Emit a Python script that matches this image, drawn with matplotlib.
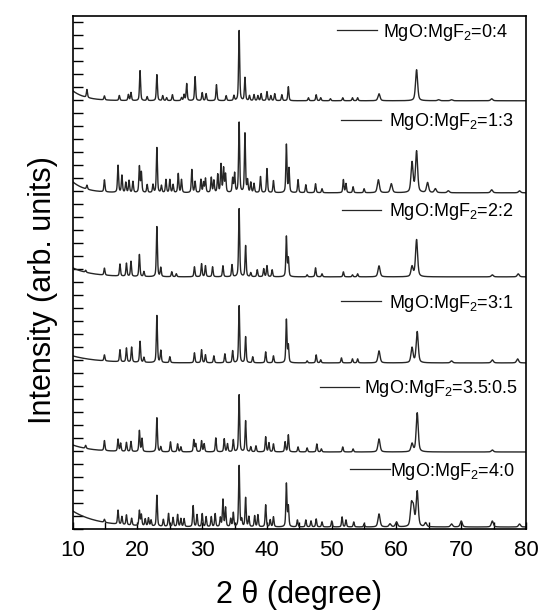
import numpy as np
import matplotlib
matplotlib.use('Agg')
import matplotlib.pyplot as plt
from matplotlib.lines import Line2D
from matplotlib.legend import Legend
from matplotlib.ticker import MultipleLocator

###############################################################################
#                     Peak lists
###############################################################################
# 2theta positions (degree) and heights (arb. units) above the local baseline

labels = ['MgO:MgF$_2$=0:4', 'MgO:MgF$_2$=1:3', 'MgO:MgF$_2$=2:2',
          'MgO:MgF$_2$=3:1', 'MgO:MgF$_2$=3.5:0.5', 'MgO:MgF$_2$=4:0']

# vertical offset of each pattern
offsets = [428, 336, 252, 166, 77, 2]

# low angle background hump: amplitude at 10 deg, decay (deg)
bg_amp = [10, 11, 9, 7, 7, 16]
bg_decay = [2.0, 2.0, 3.0, 4.0, 3.0, 4.0]

pos_04 = [12.2, 14.9, 17.2, 18.6, 19.0, 20.4, 21.5, 23.0, 23.9, 24.5, 25.4,
          26.8, 27.2, 27.6, 28.9, 30.0, 30.6, 32.2, 33.7, 34.9, 35.7, 36.6,
          37.3, 38.0, 38.6, 39.1, 40.0, 40.6, 41.2, 42.3, 43.3, 46.4, 47.6,
          48.3, 49.8, 51.7, 53.2, 54.0, 57.3, 63.1, 66.5, 68.5, 74.7]
h_04 = [8, 4, 5, 6, 8, 30, 4, 26, 5, 3, 6,
        3, 6, 17, 24, 8, 7, 16, 5, 5, 70, 23,
        5, 6, 5, 7, 9, 5, 7, 6, 14, 3, 6,
        3, 2, 3, 3, 3, 7, 31, 1, 1, 2]

pos_13 = [12.2, 14.9, 17.0, 17.6, 18.2, 18.7, 19.3, 20.3, 20.6, 21.5, 22.4,
          23.0, 23.7, 24.4, 25.0, 25.5, 26.3, 26.8, 28.4, 28.9, 29.8, 30.2,
          30.5, 31.4, 31.8, 32.4, 32.9, 33.3, 33.6, 34.7, 35.0, 35.7, 36.6,
          37.0, 37.5, 38.0, 39.0, 40.0, 41.0, 43.0, 43.4, 44.8, 46.0, 47.5,
          48.5, 51.8, 52.2, 53.3, 55.0, 57.2, 59.2, 62.4, 63.1, 64.8, 66.0,
          68.0, 74.7, 79.0]
h_13 = [4, 12, 27, 17, 10, 12, 11, 26, 20, 8, 8,
        45, 7, 13, 13, 8, 19, 13, 23, 11, 13, 10,
        14, 15, 12, 18, 28, 24, 18, 14, 19, 70, 59,
        12, 10, 9, 16, 24, 12, 48, 24, 13, 8, 9,
        4, 13, 9, 6, 4, 13, 9, 30, 41, 10, 4,
        2, 3, 2]

pos_22 = [12.0, 14.9, 17.3, 18.3, 19.0, 20.3, 21.0, 23.0, 23.6, 25.3, 26.0,
          28.8, 29.9, 30.5, 31.6, 33.2, 34.6, 35.7, 36.7, 37.5, 38.5, 39.5,
          40.0, 40.8, 43.0, 43.3, 46.2, 47.5, 48.5, 51.8, 53.2, 54.0, 57.3,
          62.4, 63.1, 74.8, 78.8]
h_22 = [2, 7, 12, 13, 15, 22, 5, 50, 9, 5, 3,
        10, 13, 11, 10, 11, 12, 68, 31, 4, 7, 8,
        11, 7, 40, 18, 2, 9, 3, 5, 2, 3, 11,
        10, 37, 2, 3]

pos_31 = [14.9, 17.3, 18.3, 19.1, 20.4, 21.0, 23.0, 23.6, 25.0, 28.8, 29.9,
          30.5, 31.8, 33.5, 34.7, 35.7, 36.7, 37.8, 39.8, 41.0, 43.0, 43.3,
          46.2, 47.6, 48.3, 51.5, 53.2, 54.0, 57.3, 62.4, 63.2, 68.5, 74.8,
          78.7]
h_31 = [6, 12, 14, 15, 21, 5, 47, 12, 6, 10, 13,
        8, 7, 9, 12, 57, 26, 6, 11, 7, 43, 17,
        2, 8, 3, 5, 4, 4, 12, 15, 31, 2, 3,
        4]

pos_3505 = [12.0, 14.9, 17.0, 17.4, 18.3, 19.0, 20.3, 20.7, 23.0, 23.6, 25.1,
            26.2, 26.7, 28.7, 29.0, 29.9, 30.3, 32.1, 33.4, 33.9, 34.8, 35.7,
            36.7, 37.5, 38.3, 39.8, 40.3, 41.0, 42.8, 43.3, 44.8, 46.2, 47.7,
            48.4, 51.7, 53.3, 57.3, 62.4, 63.2, 74.8]
h_3505 = [3, 10, 12, 8, 9, 10, 21, 13, 34, 5, 10,
          8, 5, 12, 8, 11, 8, 14, 13, 8, 12, 57,
          31, 5, 6, 15, 9, 8, 10, 17, 5, 4, 8,
          3, 5, 3, 13, 8, 39, 2]

pos_40 = [14.9, 17.0, 17.6, 18.3, 19.1, 20.3, 20.6, 21.2, 21.7, 22.1, 23.0,
          24.0, 24.8, 25.5, 26.2, 26.7, 27.2, 28.6, 29.2, 30.0, 30.6, 31.4,
          32.0, 32.8, 33.2, 33.6, 34.4, 34.8, 35.7, 36.1, 36.7, 37.2, 38.1,
          38.6, 39.8, 40.5, 41.0, 43.0, 43.3, 44.7, 46.0, 46.8, 47.6, 48.5,
          50.0, 51.6, 52.2, 53.4, 55.0, 57.3, 59.0, 60.0, 62.3, 62.6, 63.2,
          64.5, 68.5, 70.0, 74.8, 79.0]
h_40 = [3, 14, 8, 10, 7, 15, 11, 7, 8, 6, 31,
        7, 13, 9, 12, 8, 8, 21, 12, 13, 10, 10,
        13, 9, 27, 19, 8, 14, 61, 7, 29, 10, 11,
        12, 22, 7, 10, 43, 20, 7, 7, 6, 8, 5,
        6, 10, 7, 5, 3, 13, 3, 5, 21, 17, 35,
        4, 3, 6, 6, 3]

positions = [pos_04, pos_13, pos_22, pos_31, pos_3505, pos_40]
heights = [h_04, h_13, h_22, h_31, h_3505, h_40]

###############################################################################
#                               build patterns
###############################################################################
two_theta = np.arange(10.0, 80.0, 0.02)


def peak(x, p, h, w):
    # pseudo-Voigt, 50% Gaussian / 50% Lorentzian
    g = np.exp(-4 * np.log(2) * ((x - p) / w) ** 2)
    l = 1.0 / (1.0 + ((x - p) / (w / 2)) ** 2)
    return h * (0.5 * g + 0.5 * l)


def pattern(pos, hh, amp, decay):
    y = amp * np.exp(-(two_theta - 10.0) / decay)
    for p, h in zip(pos, hh):
        w = 0.38 if p > 55 else 0.2
        y = y + peak(two_theta, p, h, w)
    return y

###############################################################################
#                                figure
###############################################################################
plt.rcParams.update({
    'font.family': ['Liberation Sans', 'DejaVu Sans'],
    'mathtext.default': 'regular',
})

fig = plt.figure(figsize=(5.41, 6.16), dpi=100)
ax = fig.add_axes([0.1344, 0.1412, 0.8379, 0.8333])

# legend anchor (axes fraction, right edge of text) and handle settings
leg_x = [0.960, 0.973, 0.973, 0.972, 0.982, 0.975]
leg_y = [0.968, 0.793, 0.618, 0.440, 0.273, 0.113]
leg_pad = [0.35, 0.45, 0.45, 0.45, 0.25, 0.0]

line_color = '#262626'
for i in range(len(labels)):
    y = pattern(positions[i], heights[i], bg_amp[i], bg_decay[i]) + offsets[i]
    ax.plot(two_theta, y, color=line_color, linewidth=1.0)
    handle = Line2D([], [], color=line_color, linewidth=0.9)
    leg = Legend(ax, [handle], [labels[i]], loc='center right',
                 bbox_to_anchor=(leg_x[i], leg_y[i]), frameon=False,
                 fontsize=13, handlelength=2.2, handletextpad=leg_pad[i],
                 borderpad=0, borderaxespad=0)
    ax.add_artist(leg)

ax.set_xlim(10, 80)
ax.set_ylim(0, 513)

ax.xaxis.set_major_locator(MultipleLocator(10))
ax.xaxis.set_minor_locator(MultipleLocator(5))
ax.yaxis.set_major_locator(MultipleLocator(13))
ax.set_yticklabels([])
ax.tick_params(axis='x', which='both', direction='in', length=5, width=1,
               labelsize=16, pad=8, top=False)
ax.tick_params(axis='y', which='both', direction='in', length=7, width=1,
               right=False, left=True)

for s in ax.spines.values():
    s.set_linewidth(1.2)

ax.set_xlabel('2 \u03b8 (degree)', fontsize=22, va='center')
ax.set_ylabel('Intensity (arb. units)', fontsize=22, va='center')
ax.xaxis.set_label_coords(0.5, -0.128)
ax.yaxis.set_label_coords(-0.066, 0.466)

fig.savefig('out.png', dpi=100)
